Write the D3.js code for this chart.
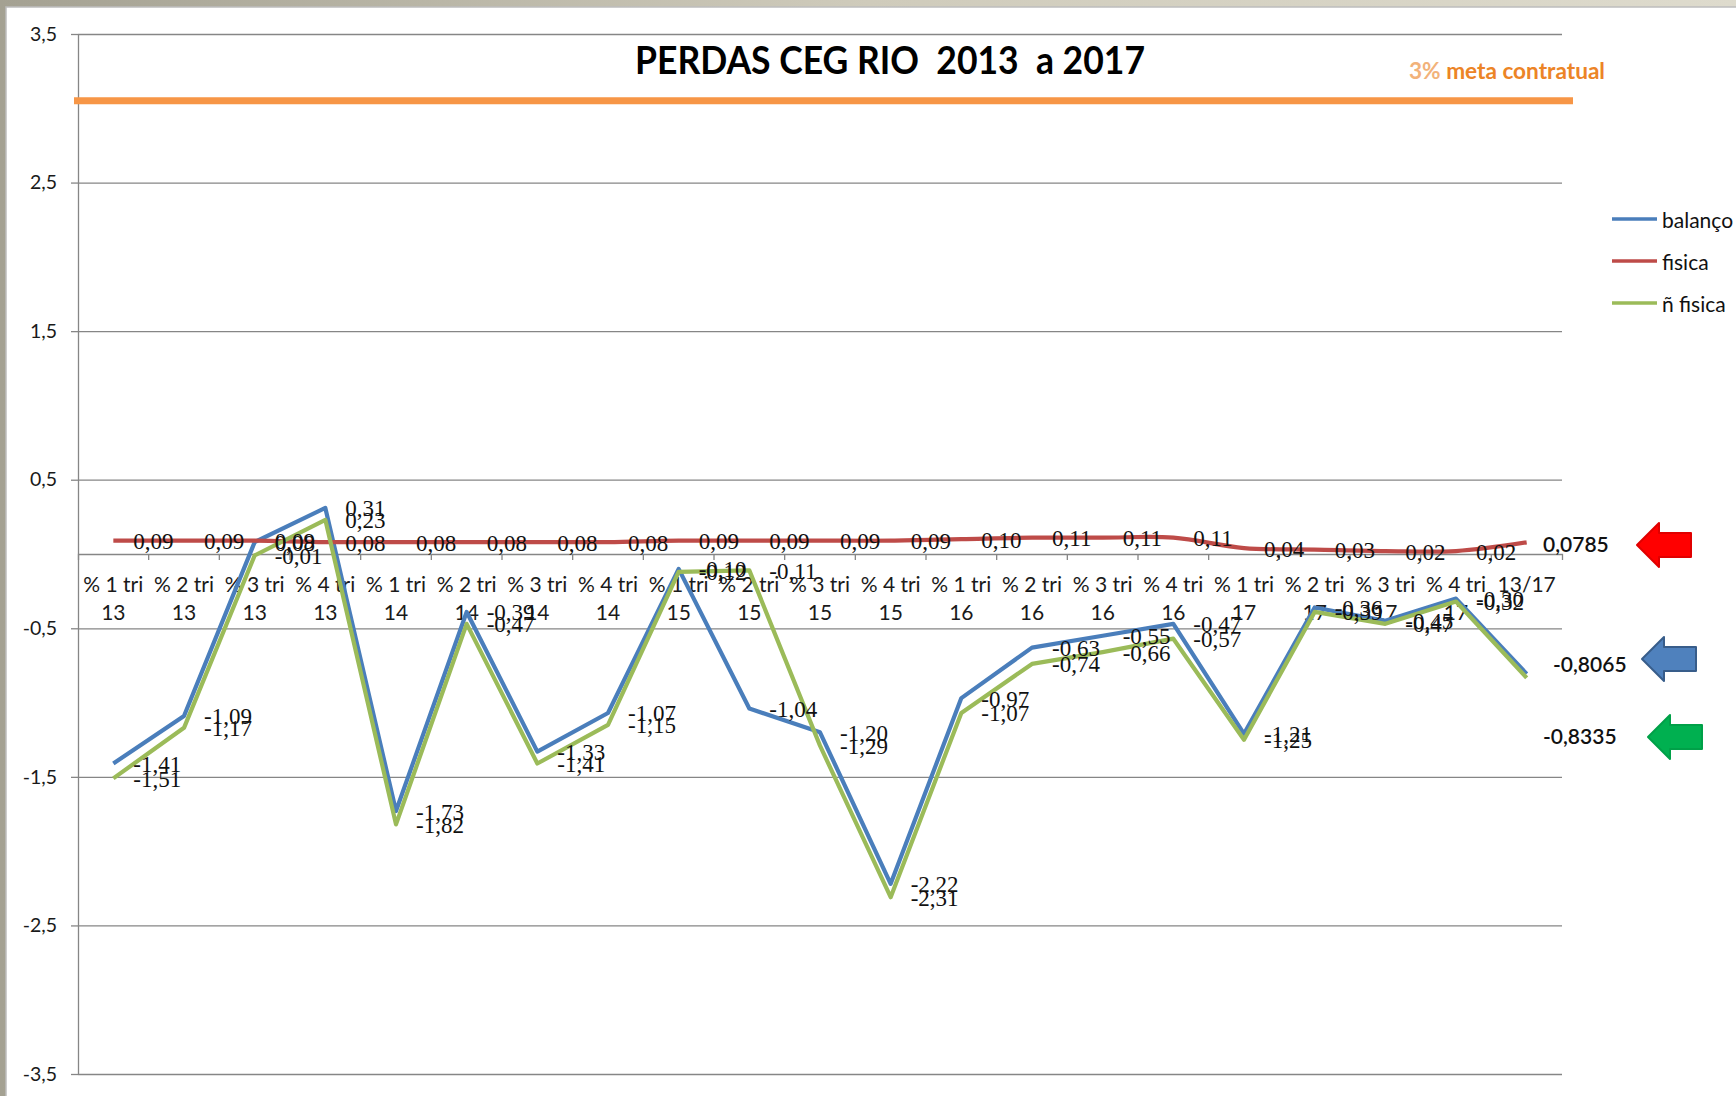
<!DOCTYPE html>
<html><head><meta charset="utf-8">
<script src="https://cdn.jsdelivr.net/npm/d3@7"></script>
<style>body{margin:0;background:#fff;overflow:hidden}</style>
</head><body>
<svg id="c" width="1736" height="1096"></svg>
<script>
const categories = ["% 1 tri 13","% 2 tri 13","% 3 tri 13","% 4 tri 13",
  "% 1 tri 14","% 2 tri 14","% 3 tri 14","% 4 tri 14",
  "% 1 tri 15","% 2 tri 15","% 3 tri 15","% 4 tri 15",
  "% 1 tri 16","% 2 tri 16","% 3 tri 16","% 4 tri 16",
  "% 1 tri 17","% 2 tri 17","% 3 tri 17","% 4 tri 17","13/17"];
const balanco   = [-1.41,-1.09,0.08,0.31,-1.73,-0.39,-1.33,-1.07,-0.10,-1.04,-1.20,-2.22,-0.97,-0.63,-0.55,-0.47,-1.21,-0.36,-0.45,-0.30,-0.8065];
const fisica    = [0.09,0.09,0.09,0.08,0.08,0.08,0.08,0.08,0.09,0.09,0.09,0.09,0.10,0.11,0.11,0.11,0.04,0.03,0.02,0.02,0.0785];
const naoFisica = [-1.51,-1.17,-0.01,0.23,-1.82,-0.47,-1.41,-1.15,-0.12,-0.11,-1.29,-2.31,-1.07,-0.74,-0.66,-0.57,-1.25,-0.39,-0.47,-0.32,-0.8335];
const seriesNames = ["balanço","fisica","ñ fisica"];
const yTicks = [3.5,2.5,1.5,0.5,-0.5,-1.5,-2.5,-3.5];
const metaValue = 3.05;
const metaLabel = ["3%"," meta contratual"];
const titleText = "PERDAS CEG RIO  2013  a 2017";
const finalLabels = ["0,0785","-0,8065","-0,8335"];

const colors = {blue:"#4a7ebb", red:"#be4b48", green:"#9bbb59"};
const loc = d3.formatLocale({decimal:",",thousands:".",grouping:[3],currency:["",""],minus:"-"});
const f2 = loc.format(".2f"), f1 = loc.format(".1f");

const svg = d3.select("#c");
const defs = svg.append("defs");
const bg = defs.append("linearGradient").attr("id","bg").attr("x1","0").attr("x2","1").attr("y1","0").attr("y2","0");
bg.append("stop").attr("offset","0").attr("stop-color","#a4a192");
bg.append("stop").attr("offset","0.5").attr("stop-color","#cfcbbb");
bg.append("stop").attr("offset","1").attr("stop-color","#dedbcd");
defs.append("filter").attr("id","blur").append("feGaussianBlur").attr("stdDeviation",1.6);

svg.append("rect").attr("width",1736).attr("height",1096).attr("fill","url(#bg)");
svg.append("rect").attr("x",6).attr("y",7).attr("width",1740).attr("height",1100)
  .attr("fill","#fff").attr("stroke","#bdbdbd").attr("stroke-width",1.5);

const L = 78, R = 1562, T = 34, B = 1074;
const x = d3.scaleBand().domain(categories).range([L,R]);
const y = d3.scaleLinear().domain([-3.5,3.5]).range([B,T]);
const xc = c => x(c) + x.bandwidth()/2;

// y axis with gridlines
const gy = svg.append("g").attr("transform",`translate(${L},0)`)
  .call(d3.axisLeft(y).tickValues(yTicks).tickSizeInner(7).tickSizeOuter(0).tickPadding(14).tickFormat(d=>f1(d)));
gy.select(".domain").attr("stroke","#868686").attr("stroke-width",1.3);
gy.selectAll(".tick line").attr("stroke","#868686").attr("stroke-width",1.3);
gy.selectAll(".tick text").attr("font-family","Lato, 'Open Sans', sans-serif").attr("font-size",19.5).attr("fill","#1a1a1a");
const grid = svg.append("g").attr("transform",`translate(${L},0)`)
  .call(d3.axisLeft(y).tickValues(yTicks).tickSize(-(R-L)).tickFormat(""));
grid.select(".domain").remove();
grid.selectAll(".tick line").attr("stroke","#868686").attr("stroke-width",1.3);

// x axis at zero
const gx = svg.append("g").attr("transform",`translate(0,${y(0)})`)
  .call(d3.axisBottom(x).tickSizeInner(0).tickSizeOuter(6).tickFormat(""));
gx.select(".domain").attr("stroke","#868686").attr("stroke-width",1.3);
gx.selectAll(".tick line").remove();
gx.selectAll(".bnd").data(categories.slice(1)).enter().append("line").attr("class","bnd")
  .attr("x1",d=>x(d)).attr("x2",d=>x(d)).attr("y1",0).attr("y2",6)
  .attr("stroke","#868686").attr("stroke-width",1.3);
const catText = svg.append("g").selectAll("text").data(categories).enter().append("text")
  .attr("text-anchor","middle").attr("font-family","Lato, 'Open Sans', sans-serif")
  .attr("font-size",21).attr("fill","#1a1a1a");
catText.each(function(d){
  const m = d.match(/^(.* tri) (\d+)$/);
  const lines = m ? [m[1],m[2]] : [d];
  const t = d3.select(this);
  lines.forEach((ln,i)=>t.append("tspan").attr("x",xc(d)).attr("y",y(0)+38+i*27.5).text(ln));
});

// meta line
svg.append("line").attr("x1",L-4).attr("x2",R+11).attr("y1",y(metaValue)+4).attr("y2",y(metaValue)+4)
  .attr("stroke","#8c9aa8").attr("stroke-opacity",0.6).attr("stroke-width",5).attr("filter","url(#blur)");
svg.append("line").attr("x1",L-4).attr("x2",R+11).attr("y1",y(metaValue)).attr("y2",y(metaValue))
  .attr("stroke","#f79646").attr("stroke-width",7);
const mt = svg.append("text").attr("x",1409).attr("y",79).attr("font-family","Lato, sans-serif")
  .attr("font-weight","bold").attr("font-size",22).attr("textLength",196).attr("lengthAdjust","spacingAndGlyphs");
mt.append("tspan").attr("fill","#f2b27a").text(metaLabel[0]);
mt.append("tspan").attr("fill","#ec8426").text(metaLabel[1]);

// title
svg.append("text").attr("x",635).attr("y",74).attr("font-family","Lato, sans-serif")
  .attr("font-weight","bold").attr("font-size",38).attr("fill","#000")
  .attr("textLength",510).attr("lengthAdjust","spacingAndGlyphs").attr("xml:space","preserve")
  .style("white-space","pre").text(titleText);

// series lines
const series = [
  {name:seriesNames[0], values:balanco, color:colors.blue, curve:d3.curveLinear},
  {name:seriesNames[1], values:fisica, color:colors.red, curve:d3.curveCatmullRom.alpha(0.5)},
  {name:seriesNames[2], values:naoFisica, color:colors.green, curve:d3.curveLinear}
];
series.forEach(s=>{
  const line = d3.line().x((d,i)=>xc(categories[i])).y(d=>y(d)).curve(s.curve);
  svg.append("path").datum(s.values).attr("d",line).attr("fill","none")
    .attr("stroke",s.color).attr("stroke-width",4.2).attr("stroke-linejoin","round");
});
// data labels
series.forEach(s=>{
  svg.append("g").selectAll("text").data(s.values.slice(0,categories.length-1)).enter().append("text")
    .attr("x",(d,i)=>xc(categories[i])+20).attr("y",(d)=>y(d)+1)
    .attr("dominant-baseline","central").attr("font-family","'Liberation Serif', serif")
    .attr("font-size",23).attr("fill","#111").text(d=>f2(d));
});

// legend
const lg = svg.append("g");
series.forEach((s,i)=>{
  const yy = 219 + i*42;
  lg.append("line").attr("x1",1612).attr("x2",1657).attr("y1",yy).attr("y2",yy)
    .attr("stroke",s.color).attr("stroke-width",3.5);
  lg.append("text").attr("x",1662).attr("y",yy).attr("dominant-baseline","central")
    .attr("font-family","Lato, sans-serif").attr("font-size",21).attr("fill","#111").text(s.name);
});

// final value annotations with arrows
const ann = [
  {text:finalLabels[0], tx:1543, ty:543, ax:1637, ay:523, fill:"#ff0000", stroke:"#e00000"},
  {text:finalLabels[1], tx:1553, ty:663, ax:1642, ay:637, fill:"#4f81bd", stroke:"#385d8a"},
  {text:finalLabels[2], tx:1543, ty:735, ax:1648, ay:715, fill:"#00b050", stroke:"#00a048"}
];
ann.forEach(a=>{
  svg.append("text").attr("x",a.tx).attr("y",a.ty).attr("dominant-baseline","central")
    .attr("font-family","Lato, sans-serif").attr("font-weight",600).attr("font-size",21).attr("fill","#111").text(a.text);
  const w=54,h=44,hw=22,st=10,sb=34;
  const p = d3.path();
  p.moveTo(0,h/2); p.lineTo(hw,0); p.lineTo(hw,st); p.lineTo(w,st); p.lineTo(w,sb); p.lineTo(hw,sb); p.lineTo(hw,h); p.closePath();
  svg.append("path").attr("d",p.toString()).attr("transform",`translate(${a.ax},${a.ay})`)
    .attr("fill",a.fill).attr("stroke",a.stroke).attr("stroke-width",2).attr("stroke-linejoin","round");
});
</script>
</body></html>
